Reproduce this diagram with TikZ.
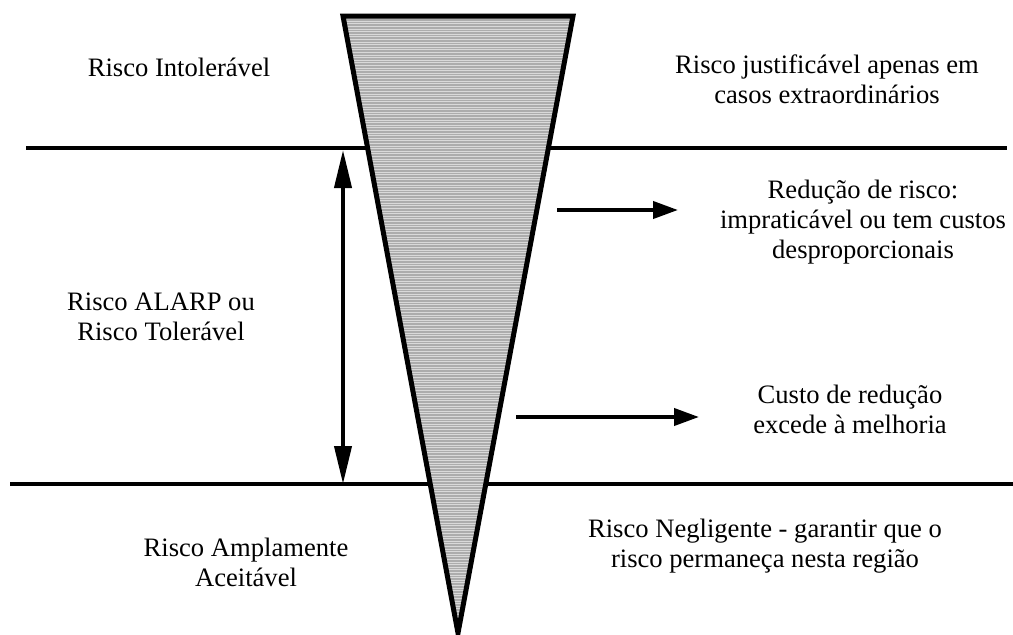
\documentclass[tikz,border=0pt]{standalone}
\usepackage{fontspec}
\setmainfont{Liberation Serif}
\usetikzlibrary{arrows.meta}
\begin{document}
\begin{tikzpicture}[x=1pt,y=-1pt,
  lbl/.style={align=center,inner sep=0pt,font=\fontsize{26.6}{30}\selectfont},
  divider/.style={line width=4pt},
  shaft/.style={line width=4pt},
  vtips/.style={{Triangle[length=38pt,width=17pt]}-{Triangle[length=38pt,width=17pt]}},
  htip/.style={-{Triangle[length=25pt,width=17pt]}}]
\useasboundingbox (0,0) rectangle (1013,635);

% triangle corners
\coordinate (tl) at (343,16);
\coordinate (tr) at (573,16);
\coordinate (apex) at (458,633);

% region dividers
\coordinate (d1l) at (26,148);
\coordinate (d1r) at (1007,148);
\coordinate (d2l) at (10,484);
\coordinate (d2r) at (1013,484);
\draw[divider] (d1l) -- (d1r);
\draw[divider] (d2l) -- (d2r);

% striped wedge
\fill[gray!65] (tl) -- (tr) -- (apex) -- cycle;
\begin{scope}
  \clip (tl) -- (tr) -- (apex) -- cycle;
  \foreach \y in {16,18.6,...,634} \draw[gray!30,line width=0.9pt] (330,\y) -- (590,\y);
\end{scope}
\draw[line width=5pt,line join=miter] (tl) -- (tr) -- (apex) -- cycle;

% ALARP span
\coordinate (va) at (343,150);
\coordinate (vb) at (343,484);
\draw[shaft,vtips] (va) -- (vb);

% side arrows
\coordinate (a1s) at (557,210);
\coordinate (a1e) at (678,210);
\coordinate (a2s) at (516,417);
\coordinate (a2e) at (699,417);
\draw[shaft,htip] (a1s) -- (a1e);
\draw[shaft,htip] (a2s) -- (a2e);

% labels
\node[lbl] (intol) at (179,67) {Risco Intolerável};
\node[lbl] (justif) at (827,79) {Risco justificável apenas em\\casos extraordinários};
\node[lbl] (alarp) at (161,317) {Risco ALARP ou\\Risco Tolerável};
\node[lbl] (reduc) at (863,222) {Redução de risco:\\impraticável ou tem custos\\desproporcionais};
\node[lbl] (custo) at (850,409) {Custo de redução\\excede à melhoria};
\node[lbl] (ampla) at (246,562) {Risco Amplamente\\Aceitável};
\node[lbl] (neglig) at (765,546) {Risco Negligente - garantir que o\\risco permaneça nesta região};
\end{tikzpicture}
\end{document}
